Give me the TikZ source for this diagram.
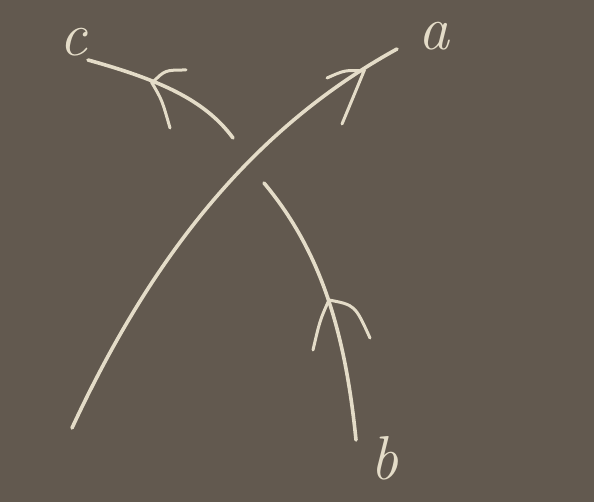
\documentclass[tikz,border=0pt]{standalone}
\usepackage{fontspec}
\usetikzlibrary{calc}
\definecolor{board}{RGB}{98,89,79}
\definecolor{chalk}{RGB}{228,220,200}
\tikzset{
  strand/.style={draw=chalk, line width=3.6pt, line cap=round, line join=round},
  barb/.style={draw=chalk, line width=3pt, line cap=round},
  lbl/.style={text=chalk, font=\fontsize{62}{62}\selectfont\itshape, inner sep=0pt}
}
\begin{document}
\begin{tikzpicture}[x=1pt,y=-1pt]
\fill[board] (0,0) rectangle (594,502);
\useasboundingbox (0,0) rectangle (594,502);
% strand a (over strand)
\coordinate (a0) at (72,428);
\coordinate (a1) at (397,49);
\draw[strand] (a0) .. controls (150,260) and (250,130) .. (a1);
\coordinate (at) at (364,71);
\coordinate (ab1) at (327,78);
\coordinate (ab2) at (342,124);
\draw[barb] (ab1) .. controls (345,70) .. (at) .. controls (352,100) .. (ab2);
% strand c (upper under-arc)
\coordinate (c0) at (233,138);
\coordinate (c1) at (88,60);
\draw[strand] (c0) .. controls (205,100) and (160,80) .. (c1);
\coordinate (ct) at (152,83);
\coordinate (cb1) at (186,70);
\coordinate (cb2) at (170,128);
\draw[barb] (cb1) .. controls (165,70) .. (ct) .. controls (162,100) .. (cb2);
% strand b (lower under-arc)
\coordinate (b0) at (356,440);
\coordinate (b1) at (264,183);
\draw[strand] (b0) .. controls (345,330) and (320,250) .. (b1);
\coordinate (bt) at (329,300);
\coordinate (bb1) at (370,338);
\coordinate (bb2) at (313,350);
\draw[barb] (bb1) .. controls (355,305) .. (bt) .. controls (320,320) .. (bb2);
% labels
\node[lbl] (la) at (434,36) {a};
\node[lbl] (lb) at (384,458) {b};
\node[lbl] (lc) at (73,42) {c};
\end{tikzpicture}
\end{document}
